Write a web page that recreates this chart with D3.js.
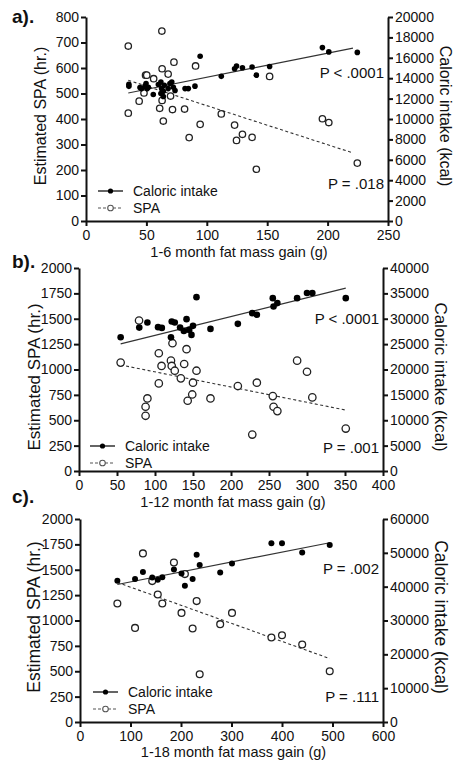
<!DOCTYPE html>
<html>
<head>
<meta charset="utf-8">
<script src="https://cdn.jsdelivr.net/npm/d3@7"></script>
<style>
  body { margin: 0; background: #fff; }
  svg text { font-family: "Liberation Sans", Arial, sans-serif; fill: #111; }
</style>
</head>
<body>
<div id="chart"></div>
<script>
// values: [fat mass gain (g), value]

// a) 1-6 month
let calA = [[35.5,13400],[35.5,13200],[44.7,13080],[46,12980],[48.8,13220],[49.7,13480],[50.7,12980],
  [51.6,13120],[55.7,12400],[59.9,13380],[62,13620],[62.6,12980],[62,12500],[64,12720],[64,12200],
  [64.8,13300],[68,12980],[69.5,13480],[71,13620],[72.3,13120],[73.7,12800],[82,12980],[84.7,12980],
  [90.2,13220],[94.5,16150],[112,14180],[123,14930],[124.6,15200],[129.5,15030],[137.5,15100],
  [141,14300],[152,15150],[195.7,17000],[201,16580],[224.6,16530]];
let spaA = [[35,686],[62.8,745],[35,423],[44,470],[49.3,572],[50.3,572],[56,558],[48,502],[63,597],
  [68,576],[72.8,623],[63,473],[61,442],[64,392],[71.6,437],[70,490],[81.6,439],[90.7,608],[85.4,327],
  [94.5,379],[112,420],[123,376],[124.6,316],[129.5,340],[137.5,328],[141,203],[152,567],[195.7,401],
  [201,386],[224.6,227]];
let calFitA = [[35,12550],[221,16950]];
let spaFitA = [[35,552],[221,267]];

// b) 1-12 month
let calB = [[54.8,26360],[79.3,28260],[90,29260],[104,28340],[109,28200],[121,26360],[122,29460],
  [126,29260],[133,28260],[138,27600],[141.5,29920],[145,27800],[148,26820],[150,28600],[154.6,34260],
  [173,28000],[209,29000],[228,31100],[234,30780],[255,34060],[256,32420],[261,33080],[287,34060],
  [300,35060],[307,35060],[351,34060]];
let spaB = [[54.8,1068],[79,1483],[90,715],[87.6,633],[87.6,544],[105,1160],[105,863],[108.6,1035],
  [121,1087],[123,1259],[122,1035],[126,988],[134,913],[138.4,1054],[141.5,1200],[143,692],[149,754],
  [150,870],[154.6,988],[173,715],[209,837],[228,359],[234,870],[255,738],[256,633],[261,590],
  [287,1087],[300,978],[307,725],[351,418]];
let calFitB = [[54.8,25040],[351,36040]];
let spaFitB = [[54.8,1045],[351,600]];

// c) 1-18 month
let calC = [[74,41730],[109,42240],[124.6,44310],[143,42720],[154,42030],[163,42810],[186,45090],
  [201,43920],[207.7,40260],[223,42240],[231,49440],[237,46380],[277.6,44220],[301,46860],
  [379,52800],[400,52800],[440,50130],[494.5,52290]];
let spaC = [[74,1168],[109,927],[124.6,1661],[143,1388],[154,1256],[163,1168],[186,1572],[201,1075],
  [207.7,1457],[223,921],[231,1191],[237,470],[277.6,964],[301,1075],[379,832],[400,855],[440,763],
  [494.5,500]];
let calFitC = [[74,40650],[494.5,52980]];
let spaFitC = [[74,1375],[494.5,625]];

let panelLabels = ['a).', 'b).', 'c).'];
let xTitles = ['1-6 month fat mass gain (g)', '1-12 month fat mass gain (g)', '1-18 month fat mass gain (g)'];
let pTop = ['P < .0001', 'P < .0001', 'P = .002'];
let pBottom = ['P = .018', 'P = .001', 'P = .111'];
let xTicks = [d3.range(0, 251, 50), d3.range(0, 401, 50), d3.range(0, 601, 100)];
let spaTicks = [d3.range(0, 801, 100), d3.range(0, 2001, 250), d3.range(0, 2001, 250)];
let calTicks = [d3.range(0, 20001, 2000), d3.range(0, 40001, 5000), d3.range(0, 60001, 10000)];

// layout of each panel (pixels)
let panels = [
  { left: 86, right: 388, top: 17, bottom: 221, cal: calA, spa: spaA, calFit: calFitA, spaFit: spaFitA,
    legX: 98, legY: 191, pTopY: 78, pBotY: 189, r: 2.8,
    labelY: 23, titleSize: 16, titleY: 116, leftTitleX: 46, rightTitleX: 440, xTitleY: 257 },
  { left: 79, right: 383, top: 268, bottom: 471, cal: calB, spa: spaB, calFit: calFitB, spaFit: spaFitB,
    legX: 90, legY: 446, pTopY: 324, pBotY: 453, r: 3.3,
    labelY: 268, titleSize: 17, titleY: 377, leftTitleX: 40, rightTitleX: 435, xTitleY: 507 },
  { left: 80, right: 383, top: 519, bottom: 722, cal: calC, spa: spaC, calFit: calFitC, spaFit: spaFitC,
    legX: 93, legY: 692, pTopY: 574, pBotY: 702, r: 3,
    labelY: 503, titleSize: 17.5, titleY: 617, leftTitleX: 40, rightTitleX: 435, xTitleY: 757 }
];

let fmt = d3.format('d');

let svg = d3.select('#chart').append('svg')
  .attr('width', 454)
  .attr('height', 765);

function styleAxis(sel) {
  sel.selectAll('path.domain').attr('stroke', '#111').attr('stroke-width', 2);
  sel.selectAll('.tick line').attr('stroke', '#111').attr('stroke-width', 2);
  sel.selectAll('.tick text').attr('font-size', 14).attr('fill', '#111')
    .style('font-family', '"Liberation Sans", Arial, sans-serif');
}

panels.forEach((p, i) => {
  let g = svg.append('g');

  let x = d3.scaleLinear().domain([xTicks[i][0], xTicks[i][xTicks[i].length - 1]]).range([p.left, p.right]);
  let yL = d3.scaleLinear().domain([0, spaTicks[i][spaTicks[i].length - 1]]).range([p.bottom, p.top]);
  let yR = d3.scaleLinear().domain([0, calTicks[i][calTicks[i].length - 1]]).range([p.bottom, p.top]);

  g.append('g').attr('transform', `translate(0,${p.bottom})`)
    .call(d3.axisBottom(x).tickValues(xTicks[i]).tickFormat(fmt).tickSize(5).tickSizeOuter(0).tickPadding(4))
    .call(styleAxis);
  g.append('g').attr('transform', `translate(${p.left},0)`)
    .call(d3.axisLeft(yL).tickValues(spaTicks[i]).tickFormat(fmt).tickSize(5).tickSizeOuter(0).tickPadding(2))
    .call(styleAxis);
  g.append('g').attr('transform', `translate(${p.right},0)`)
    .call(d3.axisRight(yR).tickValues(calTicks[i]).tickFormat(fmt).tickSize(5).tickSizeOuter(0).tickPadding(2))
    .call(styleAxis);

  // fit lines
  let lineL = d3.line().x(d => x(d[0])).y(d => yL(d[1]));
  let lineR = d3.line().x(d => x(d[0])).y(d => yR(d[1]));
  g.append('path').attr('d', lineR(p.calFit)).attr('stroke', '#333').attr('stroke-width', 1.2).attr('fill', 'none');
  g.append('path').attr('d', lineL(p.spaFit)).attr('stroke', '#333').attr('stroke-width', 1.1)
    .attr('stroke-dasharray', '3,2.5').attr('fill', 'none');

  // SPA open circles
  g.selectAll('circle.spa').data(p.spa).enter().append('circle')
    .attr('class', 'spa')
    .attr('cx', d => x(d[0])).attr('cy', d => yL(d[1]))
    .attr('r', p.r + 0.4)
    .attr('fill', 'white').attr('stroke', '#222').attr('stroke-width', 1.3);

  // caloric filled dots
  g.selectAll('circle.cal').data(p.cal).enter().append('circle')
    .attr('class', 'cal')
    .attr('cx', d => x(d[0])).attr('cy', d => yR(d[1]))
    .attr('r', p.r)
    .attr('fill', '#000');

  // legend
  let leg = g.append('g').attr('transform', `translate(${p.legX},${p.legY})`);
  leg.append('line').attr('x1', 0).attr('x2', 25).attr('stroke', '#111').attr('stroke-width', 1.3);
  leg.append('circle').attr('cx', 12.5).attr('r', 2.6).attr('fill', '#000');
  leg.append('text').attr('x', 35).attr('y', 5).attr('font-size', 14).text('Caloric intake');
  leg.append('line').attr('x1', 0).attr('x2', 25).attr('y1', 17).attr('y2', 17)
    .attr('stroke', '#555').attr('stroke-width', 1.1).attr('stroke-dasharray', '3,2');
  leg.append('circle').attr('cx', 12.5).attr('cy', 17).attr('r', 2.8)
    .attr('fill', 'white').attr('stroke', '#555').attr('stroke-width', 1.1);
  leg.append('text').attr('x', 35).attr('y', 22).attr('font-size', 14).text('SPA');

  // p values
  g.append('text').attr('x', p.right - 4).attr('y', p.pTopY).attr('text-anchor', 'end')
    .attr('font-size', 15).text(pTop[i]);
  g.append('text').attr('x', p.right - 4).attr('y', p.pBotY).attr('text-anchor', 'end')
    .attr('font-size', 15).text(pBottom[i]);

  // titles
  g.append('text').attr('transform', `translate(${p.leftTitleX},${p.titleY}) rotate(-90)`)
    .attr('text-anchor', 'middle').attr('font-size', p.titleSize).text('Estimated SPA (hr.)');
  g.append('text').attr('transform', `translate(${p.rightTitleX},${p.titleY}) rotate(90)`)
    .attr('text-anchor', 'middle').attr('font-size', p.titleSize).text('Caloric intake (kcal)');
  g.append('text').attr('x', (p.left + p.right) / 2 + 2).attr('y', p.xTitleY)
    .attr('text-anchor', 'middle').attr('font-size', 14.5).text(xTitles[i]);
  g.append('text').attr('x', 12).attr('y', p.labelY)
    .attr('font-size', 19).attr('font-weight', 'bold').text(panelLabels[i]);
});
</script>
</body>
</html>
